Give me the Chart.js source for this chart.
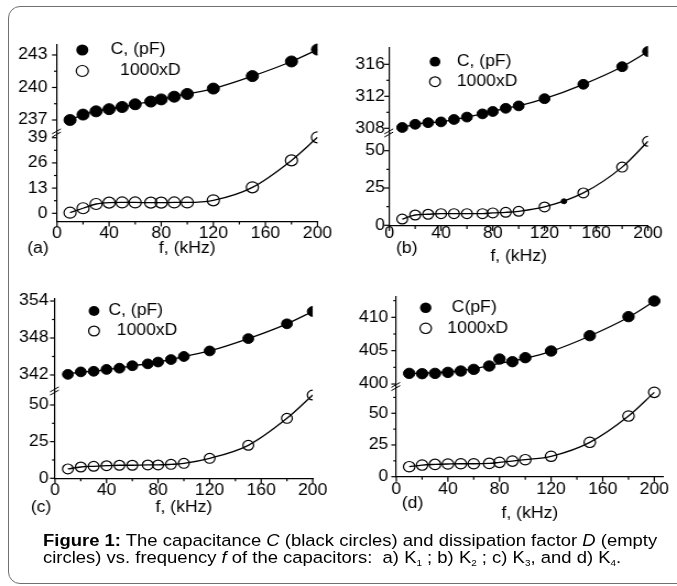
<!DOCTYPE html>
<html>
<head>
<meta charset="utf-8">
<script src="https://cdn.jsdelivr.net/npm/chart.js@4.4.1/dist/chart.umd.min.js"></script>
<style>
  html, body { margin: 0; padding: 0; background: #fff; }
  body { width: 677px; height: 586px; position: relative; overflow: hidden; font-family: 'Liberation Sans', Arial, sans-serif; }
  #frame { position: absolute; left: 8px; top: 6px; width: 720px; height: 576px; border: 1.5px solid #707070; border-radius: 12px; }
  canvas { position: absolute; left: 0; top: 0; }
  #caption { position: absolute; left: 43px; top: 533px; font-size: 16.8px; line-height: 16.6px; color: #000; white-space: nowrap; transform: scaleX(1.1); transform-origin: left top; }
  #caption sub { font-size: 9px; line-height: 0; vertical-align: -3px; }
</style>
</head>
<body>
<div id="frame"></div>
<canvas id="chartA" width="615" height="586" style="width:677px;height:586px"></canvas>
<canvas id="chartB" width="615" height="586" style="width:677px;height:586px"></canvas>
<canvas id="chartC" width="615" height="586" style="width:677px;height:586px"></canvas>
<canvas id="chartD" width="615" height="586" style="width:677px;height:586px"></canvas>
<div id="caption"><b>Figure 1:</b> The capacitance <i>C</i> (black circles) and dissipation factor <i>D</i> (empty<br>circles) vs. frequency <i>f</i> of the capacitors:&nbsp; a) K<sub>1</sub> ; b) K<sub>2</sub> ; c) K<sub>3</sub>, and d) K<sub>4</sub>.</div>
<script>
// Frequencies shared by all four capacitors
const FREQ = [10, 20, 30, 40, 50, 60, 72, 80, 90, 100, 120, 150, 180, 200];
const X_TICKS = [0, 40, 80, 120, 160, 200];
const X_MINOR = [20, 60, 100, 140, 180];

// (a) K1
const C_K1 = [237.0, 237.5, 237.8, 238.0, 238.2, 238.45, 238.7, 238.9, 239.15, 239.4, 239.9, 241.05, 242.4, 243.5];
const D_K1 = [0.3, 2.6, 4.8, 5.5, 5.6, 5.6, 5.5, 5.5, 5.6, 5.6, 6.7, 13.4, 27.3, 39.2];
const C_TICKS_K1 = [237, 240, 243];
const C_MINOR_K1 = [238.5, 241.5];
const D_TICKS_K1 = [0, 13, 26, 39];
const D_MINOR_K1 = [6.5, 19.5, 32.5];

// (b) K2
const C_K2 = [308.1, 308.5, 308.7, 308.8, 309.1, 309.4, 309.8, 310.1, 310.5, 310.8, 311.7, 313.5, 315.7, 317.6];
const D_K2 = [4.2, 6.9, 7.4, 7.8, 7.8, 7.8, 7.8, 8.3, 8.7, 9.4, 12.3, 21.7, 39.0, 56.3];
const DOT_F_K2 = [135];
const DOT_D_K2 = [16.1];
const C_TICKS_K2 = [308, 312, 316];
const C_MINOR_K2 = [310, 314];
const D_TICKS_K2 = [0, 25, 50];
const D_MINOR_K2 = [12.5, 37.5];

// (c) K3
const C_K3 = [342.1, 342.5, 342.6, 342.9, 343.1, 343.5, 343.8, 344.1, 344.5, 345.0, 345.9, 347.9, 350.3, 352.3];
const D_K3 = [6.4, 7.7, 8.2, 8.6, 8.9, 8.9, 9.1, 9.1, 9.5, 10.2, 13.6, 22.5, 40.9, 56.8];
const C_TICKS_K3 = [342, 348, 354];
const C_MINOR_K3 = [345, 351];
const D_TICKS_K3 = [0, 25, 50];
const D_MINOR_K3 = [12.5, 37.5];

// (d) K4
const C_K4 = [401.6, 401.55, 401.6, 401.75, 401.95, 402.2, 402.7, 403.75, 403.35, 403.95, 404.95, 407.25, 410.1, 412.45];
const C_FIT_K4 = [401.6, 401.6, 401.7, 401.8, 402.0, 402.3, 402.75, 403.1, 403.45, 403.85, 404.9, 407.2, 410.0, 412.4];
const D_K4 = [7.9, 9.2, 9.7, 10.0, 10.2, 10.2, 10.5, 11.3, 12.3, 13.4, 16.1, 27.1, 47.8, 66.5];
const C_TICKS_K4 = [400, 405, 410];
const C_MINOR_K4 = [402.5, 407.5, 412.5];
const D_TICKS_K4 = [0, 25, 50];
const D_MINOR_K4 = [12.5, 37.5, 62.5];

const FONT = "'Liberation Sans', Arial, sans-serif";
// the original figure is stretched sideways: canvases are 615px wide, shown at 677px
const CW = 615;
const SX = 677 / CW;
const Y_AXIS_W = 40;

// Page layout of each panel (chart area in page pixels)
const PANELS = [
  {
    id: 'chartA', letter: '(a)', c: C_K1, d: D_K1, cLabel: 'C, (pF)',
    cTicks: C_TICKS_K1, cMinor: C_MINOR_K1, dTicks: D_TICKS_K1, dMinor: D_MINOR_K1,
    area: { left: 57, right: 317.5, top: 45, split: 133, bottom: 221.5 },
    xMax: 200, cRange: [235.8, 243.92], dRange: [-4.23, 41.43],
    r: 5.5, yPad: 9.5, xTickOff: 11.7, xTitleOff: 26.8,
    letterPos: [38, 248.3],
    legend: { x: 82.3, y: [50, 71], tx: [110.7, 120] },
  },
  {
    id: 'chartB', letter: '(b)', c: C_K2, d: D_K2, cLabel: 'C, (pF)',
    cTicks: C_TICKS_K2, cMinor: C_MINOR_K2, dTicks: D_TICKS_K2, dMinor: D_MINOR_K2,
    dotF: DOT_F_K2, dotD: DOT_D_K2,
    area: { left: 389.3, right: 648, top: 48, split: 133, bottom: 226 },
    xMax: 200, cRange: [307.41, 318.04], dRange: [-0.47, 61.86],
    r: 4.9, yPad: 4.5, xTickOff: 7.7, xTitleOff: 30.7,
    letterPos: [406.7, 248.3],
    legend: { x: 435, y: [61.7, 81.7], tx: [456.7, 456.7] },
  },
  {
    id: 'chartC', letter: '(c)', c: C_K3, d: D_K3, cLabel: 'C, (pF)',
    cTicks: C_TICKS_K3, cMinor: C_MINOR_K3, dTicks: D_TICKS_K3, dMinor: D_MINOR_K3,
    area: { left: 55, right: 312.7, top: 298.3, split: 391, bottom: 478.3 },
    xMax: 200, cRange: [339.4, 354.44], dRange: [0, 59.55],
    r: 4.9, yPad: 6.5, xTickOff: 12.4, xTitleOff: 29.4,
    letterPos: [41, 508],
    legend: { x: 94, y: [311, 331], tx: [108.3, 116.7] },
  },
  {
    id: 'chartD', letter: '(d)', c: C_K4, cFit: C_FIT_K4, d: D_K4, cLabel: 'C(pF)',
    cTicks: C_TICKS_K4, cMinor: C_MINOR_K4, dTicks: D_TICKS_K4, dMinor: D_MINOR_K4,
    area: { left: 396.3, right: 663.3, top: 296.7, split: 386.5, bottom: 476.7 },
    xMax: 207, cRange: [399.63, 413.09], dRange: [0, 71.1],
    r: 5.2, yPad: 8, xTickOff: 13.3, xTitleOff: 36.6,
    letterPos: [412.5, 503.3],
    legend: { x: 425.7, y: [307.7, 328.3], tx: [451.7, 447.3] },
  },
];

const CLIP = { left: 10, top: 10, right: 0, bottom: 10 };

// Tick marks, axis break, legend and panel letter
const panelDecor = {
  id: 'panelDecor',
  afterDraw(chart, args, o) {
    const ctx = chart.ctx;
    const { x, yc, yd } = chart.scales;
    ctx.save();
    ctx.strokeStyle = '#000';
    ctx.lineWidth = 1.2;
    const tick = (scale, values, len) => {
      values.forEach((v) => {
        const p = scale.getPixelForValue(v);
        ctx.beginPath();
        if (scale.isHorizontal()) {
          ctx.moveTo(p, scale.top);
          ctx.lineTo(p, scale.top + len);
        } else {
          ctx.moveTo(scale.right, p);
          ctx.lineTo(scale.right - len / SX, p);
        }
        ctx.stroke();
      });
    };
    tick(x, X_TICKS, 5);
    tick(x, X_MINOR, 3);
    tick(yc, o.cTicks, 5);
    tick(yc, o.cMinor, 3);
    tick(yd, o.dTicks, 5);
    tick(yd, o.dMinor, 3);

    // axis break marks
    const bx = yc.right;
    const by = yc.bottom;
    ctx.lineWidth = 1;
    ctx.beginPath();
    [-1.6, 1.6].forEach((dy) => {
      ctx.moveTo(bx - 4.5, by + dy + 2.5);
      ctx.lineTo(bx + 3.5, by + dy - 2.5);
    });
    ctx.stroke();

    // legend
    ctx.font = '16px ' + FONT;
    ctx.textBaseline = 'middle';
    ctx.textAlign = 'left';
    const lg = o.legend;
    const labels = [chart.data.datasets[0].label, chart.data.datasets[1].label];
    labels.forEach((text, i) => {
      ctx.beginPath();
      ctx.arc(lg.x / SX, lg.y[i], o.r, 0, Math.PI * 2);
      if (i === 0) {
        ctx.fillStyle = '#000';
        ctx.fill();
      } else {
        ctx.lineWidth = 1.2;
        ctx.stroke();
      }
      ctx.fillStyle = '#000';
      ctx.fillText(text, lg.tx[i] / SX, lg.y[i]);
    });

    // panel letter
    ctx.textAlign = 'center';
    ctx.fillText(o.letter, o.letterPos[0] / SX, o.letterPos[1]);
    ctx.restore();
  },
};

function yScale(range, ticks, p, weight, stackWeight) {
  return {
    type: 'linear',
    position: 'left',
    stack: 'panel',
    stackWeight,
    weight,
    min: range[0],
    max: range[1],
    afterBuildTicks: (s) => { s.ticks = ticks.map((v) => ({ value: v })); },
    afterFit: (s) => { s.width = Y_AXIS_W; },
    grid: { display: false, drawTicks: false },
    border: { display: true, color: '#000', width: 1.2 },
    ticks: {
      color: '#000',
      padding: p.yPad / SX,
      autoSkip: false,
      font: { family: FONT, size: 16, lineHeight: 1 },
    },
  };
}

function createPanel(p) {
  const a = p.area;
  const xAxisH = p.xTitleOff + 8;
  const datasets = [
    {
      label: p.cLabel,
      data: FREQ.map((f, i) => ({ x: f, y: p.c[i] })),
      yAxisID: 'yc',
      showLine: !p.cFit,
      borderColor: '#000',
      borderWidth: 1.3,
      pointRadius: p.r,
      pointBackgroundColor: '#000',
      pointBorderColor: '#000',
      pointBorderWidth: 1,
      cubicInterpolationMode: 'monotone',
      clip: CLIP,
    },
    {
      label: '1000xD',
      data: FREQ.map((f, i) => ({ x: f, y: p.d[i] })),
      yAxisID: 'yd',
      borderColor: '#000',
      borderWidth: 1.3,
      pointRadius: p.r,
      pointBackgroundColor: 'rgba(0,0,0,0)',
      pointBorderColor: '#000',
      pointBorderWidth: 1.2,
      cubicInterpolationMode: 'monotone',
      clip: CLIP,
    },
  ];
  if (p.cFit) {
    datasets.push({
      label: 'fit',
      data: FREQ.map((f, i) => ({ x: f, y: p.cFit[i] })),
      yAxisID: 'yc',
      borderColor: '#000',
      borderWidth: 1.3,
      pointRadius: 0,
      cubicInterpolationMode: 'monotone',
      clip: CLIP,
    });
  }
  if (p.dotF) {
    datasets.push({
      label: 'dot',
      data: p.dotF.map((f, i) => ({ x: f, y: p.dotD[i] })),
      yAxisID: 'yd',
      showLine: false,
      pointRadius: 2.5,
      pointBackgroundColor: '#000',
      pointBorderColor: '#000',
    });
  }

  return new Chart(document.getElementById(p.id), {
    type: 'line',
    data: { datasets },
    plugins: [panelDecor],
    options: {
      responsive: false,
      animation: false,
      events: [],
      layout: {
        padding: {
          left: a.left / SX - Y_AXIS_W,
          right: CW - a.right / SX,
          top: a.top,
          bottom: 586 - a.bottom - xAxisH,
        },
      },
      scales: {
        x: {
          type: 'linear',
          min: 0,
          max: p.xMax,
          afterBuildTicks: (s) => { s.ticks = X_TICKS.map((v) => ({ value: v })); },
          afterFit: (s) => { s.height = xAxisH; },
          grid: { display: false, drawTicks: false },
          border: { display: true, color: '#000', width: 1.3 },
          ticks: {
            color: '#000',
            padding: p.xTickOff - 8,
            maxRotation: 0,
            autoSkip: false,
            font: { family: FONT, size: 16, lineHeight: 1 },
          },
          title: {
            display: true,
            text: 'f, (kHz)',
            color: '#000',
            padding: 0,
            font: { family: FONT, size: 16, lineHeight: 1 },
          },
        },
        yc: yScale(p.cRange, p.cTicks, p, 2, a.split - a.top),
        yd: yScale(p.dRange, p.dTicks, p, 1, a.bottom - a.split),
      },
      plugins: {
        legend: { display: false },
        tooltip: { enabled: false },
        panelDecor: p,
      },
    },
  });
}

PANELS.forEach(createPanel);
</script>
</body>
</html>
